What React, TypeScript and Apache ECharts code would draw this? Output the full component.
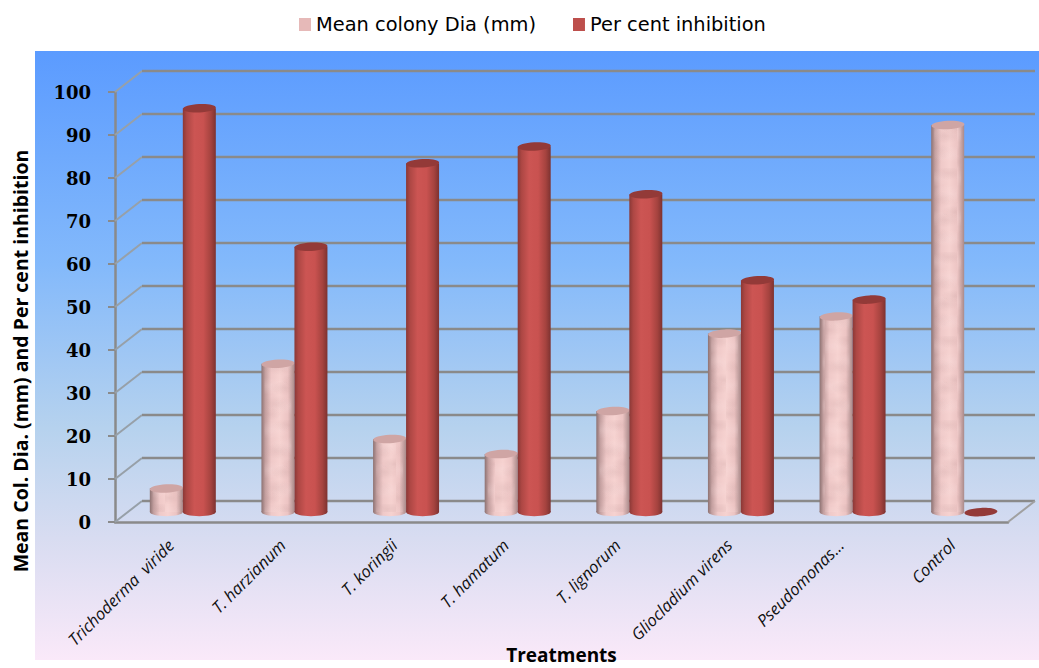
import React, { useEffect, useRef } from "react";
import * as echarts from "echarts";

const categories = [
  "Trichoderma  viride",
  "T. harzianum",
  "T. koringii",
  "T. hamatum",
  "T. lignorum",
  "Gliocladium virens",
  "Pseudomonas...",
  "Control",
];
const meanColonyDia = [5.5, 34.5, 17, 13.5, 23.5, 41.5, 45.5, 90];
const perCentInhibition = [93.9, 61.7, 81.1, 85, 73.9, 53.9, 49.4, 0];
const axisTicks = [0, 10, 20, 30, 40, 50, 60, 70, 80, 90, 100];

const GRID_GREY = "#8a8a8a";
// Pseudo-3D wall depth and the half-way depth at which the cylinders stand.
const WALL_DX = 27;
const WALL_DY = 21;
const BAR_DX = 12;
const BAR_DY = 10;
const BAR_W = 33;
const CAP_RY = 4.2;
const CAP_TILT = 0.05;

const shade = (stops: [number, string][]) => ({
  type: "linear",
  x: 0,
  y: 0,
  x2: 1,
  y2: 0,
  colorStops: stops.map(([offset, color]) => ({ offset, color })),
});

const pinkBody = shade([
  [0, "#8d7272"],
  [0.12, "#c4a0a0"],
  [0.3, "#efc9c8"],
  [0.55, "#f6d2d0"],
  [0.8, "#ecc4c3"],
  [1, "#a98a8a"],
]);
const redBody = shade([
  [0, "#8a3836"],
  [0.12, "#ad4744"],
  [0.35, "#cc5553"],
  [0.62, "#c95250"],
  [0.85, "#a5433f"],
  [1, "#7d3230"],
]);

// Soft marbled overlay for the pink cylinders: [x, y, radius, light or dark].
const marbleSpots: [number, number, number, number][] = [
  [8, 10, 11, 1], [25, 5, 9, 0], [14, 31, 10, 0], [27, 26, 12, 1],
  [6, 50, 11, 1], [21, 52, 9, 0], [31, 44, 8, 0], [12, 68, 10, 0],
  [26, 70, 11, 1], [4, 78, 8, 0],
];
const marbleTile = () => {
  const canvas = document.createElement("canvas");
  canvas.width = 33;
  canvas.height = 84;
  const ctx = canvas.getContext("2d")!;
  marbleSpots.forEach(([x, y, r, light]) => {
    ctx.save();
    ctx.translate(x, y);
    ctx.scale(1.7, 0.8);
    const g = ctx.createRadialGradient(0, 0, 0, 0, 0, r);
    const rgb = light ? "255,232,232" : "190,150,150";
    g.addColorStop(0, `rgba(${rgb},0.2)`);
    g.addColorStop(1, `rgba(${rgb},0)`);
    ctx.fillStyle = g;
    ctx.beginPath();
    ctx.arc(0, 0, r, 0, Math.PI * 2);
    ctx.fill();
    ctx.restore();
  });
  return canvas;
};

// One cylinder per value, positioned through the chart's own axes.
const cylinders =
  (side: number, body: any, cap: string, overlay?: any) => (params: any, api: any) => {
    const base = api.coord([api.value(0), 0]);
    const top = api.coord([api.value(0), api.value(1)]);
    const cx = base[0] + BAR_DX + side * (BAR_W / 2);
    const by = base[1] - BAR_DY;
    const ty = top[1] - BAR_DY;
    const ellipse = (cy: number, fill: any, tilt: number) => ({
      type: "ellipse",
      shape: { cx, cy, rx: BAR_W / 2, ry: CAP_RY },
      rotation: tilt,
      originX: cx,
      originY: cy,
      style: { fill },
    });
    const children: any[] = [];
    if (by - ty > 0.5) {
      children.push(ellipse(by, body, 0));
      children.push({
        type: "rect",
        shape: { x: cx - BAR_W / 2, y: ty, width: BAR_W, height: by - ty },
        style: { fill: body },
      });
      if (overlay) {
        children.push({
          type: "rect",
          shape: { x: cx - BAR_W / 2 + 3, y: ty, width: BAR_W - 6, height: by - ty },
          style: { fill: overlay },
        });
      }
    }
    children.push(ellipse(ty, cap, CAP_TILT));
    return { type: "group", children };
  };

// Back wall grid lines with their slanted returns to the value axis.
const wallGrid = (params: any, api: any) => {
  const sys = params.coordSys;
  const y = api.coord([0, api.value(0)])[1];
  const left = sys.x;
  const right = sys.x + sys.width;
  return {
    type: "group",
    children: [
      {
        type: "line",
        shape: { x1: left, y1: y, x2: left + WALL_DX, y2: y - WALL_DY },
        style: { stroke: "#97a0a8", lineWidth: 2 },
      },
      {
        type: "line",
        shape: { x1: left + WALL_DX, y1: y - WALL_DY, x2: right + WALL_DX, y2: y - WALL_DY },
        style: { stroke: GRID_GREY, lineWidth: 2.5 },
      },
    ],
  };
};

// Right-hand edge of the floor.
const floorEdge = (params: any, api: any) => {
  const sys = params.coordSys;
  const y = api.coord([0, 0])[1];
  const x = sys.x + sys.width;
  return {
    type: "line",
    shape: { x1: x, y1: y, x2: x + WALL_DX, y2: y - WALL_DY },
    style: { stroke: "#a0a0a0", lineWidth: 2 },
  };
};

export default function App() {
  const ref = useRef<HTMLDivElement>(null);

  useEffect(() => {
    const chart = echarts.init(ref.current!, null, { renderer: "svg" });
    const marble = { image: marbleTile(), repeat: "repeat" };
    chart.setOption({
      animation: false,
      backgroundColor: "#ffffff",
      graphic: [
        {
          type: "rect",
          z: -10,
          silent: true,
          shape: { x: 35, y: 51, width: 1004, height: 609 },
          style: {
            fill: {
              type: "linear",
              x: 0,
              y: 0,
              x2: 0,
              y2: 1,
              colorStops: [
                { offset: 0, color: "#5b9bff" },
                { offset: 0.35, color: "#83b9fb" },
                { offset: 0.62, color: "#b6d2ee" },
                { offset: 0.8, color: "#d8dcf1" },
                { offset: 1, color: "#fae9f9" },
              ],
            },
          },
        },
      ],
      legend: {
        top: 10,
        left: 294,
        itemWidth: 12,
        itemHeight: 13,
        itemGap: 37,
        icon: "rect",
        textStyle: { fontFamily: "DejaVu Sans", fontSize: 19.4, color: "#000" },
        data: [
          { name: "Mean colony Dia (mm)", itemStyle: { color: "#e6b9b8" } },
          { name: "Per cent inhibition", itemStyle: { color: "#bd4f4c" } },
        ],
      },
      grid: { left: 115, right: 31, top: 92, bottom: 146, outerBoundsMode: "none" },
      xAxis: {
        type: "category",
        data: categories,
        name: "Treatments",
        nameLocation: "middle",
        nameGap: 123,
        nameMoveOverlap: false,
        nameTextStyle: { fontFamily: "Open Sans", fontWeight: "bold", fontSize: 19, color: "#000" },
        axisLine: { lineStyle: { color: GRID_GREY, width: 2.5 } },
        axisTick: { length: 7, lineStyle: { color: GRID_GREY, width: 2 } },
        axisLabel: {
          rotate: 45,
          interval: 0,
          margin: 20,
          fontStyle: "italic",
          fontFamily: "Open Sans",
          fontSize: 16.5,
          color: "#111",
        },
      },
      yAxis: {
        type: "value",
        min: 0,
        max: 100,
        interval: 10,
        name: "Mean Col. Dia. (mm) and Per cent inhibition",
        nameLocation: "middle",
        nameGap: 85,
        nameMoveOverlap: false,
        nameTextStyle: {
          fontFamily: "Open Sans",
          fontWeight: "bold",
          fontSize: 19.5,
          color: "#000",
          padding: [0, 108, 0, 0],
        },
        axisLine: { show: true, lineStyle: { color: GRID_GREY, width: 2.5 } },
        axisTick: { show: true, length: 7, lineStyle: { color: GRID_GREY, width: 2 } },
        splitLine: { show: false },
        axisLabel: {
          margin: 24,
          fontFamily: "DejaVu Serif",
          fontWeight: "bold",
          fontSize: 18,
          color: "#000",
        },
      },
      series: [
        {
          type: "custom",
          silent: true,
          z: 1,
          clip: false,
          renderItem: wallGrid,
          data: axisTicks.map((t) => [t]),
          encode: { y: 0 },
        },
        {
          type: "custom",
          silent: true,
          z: 1,
          clip: false,
          renderItem: floorEdge,
          data: [[0]],
          encode: { y: 0 },
        },
        {
          name: "Mean colony Dia (mm)",
          type: "custom",
          z: 3,
          clip: false,
          renderItem: cylinders(-1, pinkBody, "#cfa5a4", marble),
          data: meanColonyDia.map((v, i) => [i, v]),
          encode: { x: 0, y: 1 },
          itemStyle: { color: "#e6b9b8" },
        },
        {
          name: "Per cent inhibition",
          type: "custom",
          z: 4,
          clip: false,
          renderItem: cylinders(1, redBody, "#933a38"),
          data: perCentInhibition.map((v, i) => [i, v]),
          encode: { x: 0, y: 1 },
          itemStyle: { color: "#bd4f4c" },
        },
      ],
    });
    return () => chart.dispose();
  }, []);

  return (
    <div
      ref={ref}
      style={{ position: "absolute", left: 0, top: 0, width: 1039, height: 668 }}
    />
  );
}
